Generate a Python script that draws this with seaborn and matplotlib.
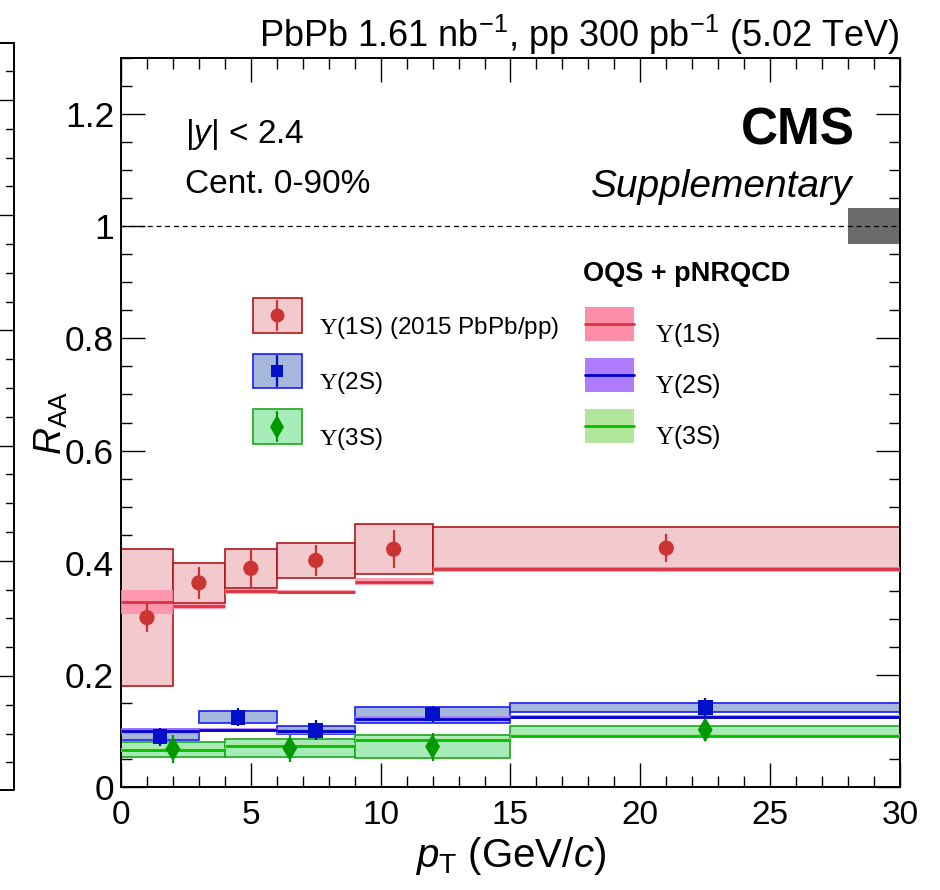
import numpy as np
import pandas as pd
import seaborn as sns
import matplotlib
matplotlib.use("Agg")
import matplotlib.pyplot as plt
from matplotlib.patches import Patch, Rectangle
from matplotlib.lines import Line2D
from matplotlib.ticker import MultipleLocator
from matplotlib.legend_handler import HandlerBase

# ---------------- data ----------------
# Upsilon(1S) data (2015 PbPb/pp)
s1_lo = [0, 2, 4, 6, 9, 12]
s1_hi = [2, 4, 6, 9, 12, 30]
s1_x = [1.0, 3.0, 5.0, 7.5, 10.5, 21.0]
s1_y = [0.302, 0.364, 0.390, 0.404, 0.424, 0.426]
s1_stat = [0.026, 0.029, 0.034, 0.028, 0.034, 0.025]
s1_sys_lo = [0.181, 0.329, 0.355, 0.372, 0.380, 0.390]
s1_sys_hi = [0.425, 0.399, 0.424, 0.435, 0.469, 0.463]

# Upsilon(2S) data
s2_lo = [0, 3, 6, 9, 15]
s2_hi = [3, 6, 9, 15, 30]
s2_x = [1.5, 4.5, 7.5, 12.0, 22.5]
s2_y = [0.090, 0.124, 0.101, 0.130, 0.142]
s2_stat = [0.016, 0.016, 0.018, 0.014, 0.016]
s2_sys_lo = [0.084, 0.115, 0.094, 0.115, 0.134]
s2_sys_hi = [0.103, 0.136, 0.108, 0.142, 0.150]

# Upsilon(3S) data
s3_lo = [0, 4, 9, 15]
s3_hi = [4, 9, 15, 30]
s3_x = [2.0, 6.5, 12.0, 22.5]
s3_y = [0.068, 0.069, 0.072, 0.102]
s3_stat = [0.025, 0.024, 0.025, 0.020]
s3_sys_lo = [0.053, 0.053, 0.052, 0.093]
s3_sys_hi = [0.081, 0.085, 0.092, 0.109]

# OQS + pNRQCD theory
t1_lo = [0, 2, 4, 6, 9, 12]
t1_hi = [2, 4, 6, 9, 12, 30]
t1_c = [0.330, 0.322, 0.349, 0.348, 0.366, 0.388]
t1_dn = [0.308, 0.318, 0.345, 0.344, 0.360, 0.384]
t1_up = [0.351, 0.326, 0.353, 0.352, 0.372, 0.392]

t2_lo = [0, 3, 6, 9, 15]
t2_hi = [3, 6, 9, 15, 30]
t2_c = [0.100, 0.102, 0.099, 0.122, 0.125]
t2_dn = [0.095, 0.098, 0.095, 0.118, 0.121]
t2_up = [0.105, 0.106, 0.103, 0.126, 0.129]

t3_lo = [0, 4, 9, 15]
t3_hi = [4, 9, 15, 30]
t3_c = [0.066, 0.074, 0.084, 0.091]
t3_dn = [0.062, 0.070, 0.080, 0.087]
t3_up = [0.070, 0.078, 0.088, 0.095]

global_unc = [0.968, 1.032]
global_x = [28, 30]

x_ticks = [0, 5, 10, 15, 20, 25, 30]
x_ticklabels = ["0", "5", "10", "15", "20", "25", "30"]
y_ticks = [0, 0.2, 0.4, 0.6, 0.8, 1.0, 1.2]
y_ticklabels = ["0", "0.2", "0.4", "0.6", "0.8", "1", "1.2"]

# ---------------- style ----------------
sns.set_theme(style="ticks")
plt.rcParams["font.family"] = ["Liberation Sans", "DejaVu Sans"]
plt.rcParams["mathtext.fontset"] = "custom"
plt.rcParams["mathtext.rm"] = "Liberation Sans"
plt.rcParams["mathtext.it"] = "Liberation Sans:italic"
plt.rcParams["mathtext.bf"] = "Liberation Sans:bold"
plt.rcParams["mathtext.sf"] = "Liberation Serif"
for k in ["text.color", "axes.labelcolor", "xtick.color", "ytick.color", "axes.edgecolor"]:
    plt.rcParams[k] = "black"

W, H = 940, 890
fig = plt.figure(figsize=(W / 100, H / 100), dpi=100)
ax = fig.add_axes([121 / W, 1 - 787 / H, 779 / W, 729 / H])

C = {
    "1S": dict(fill="#f2c9cc", edge="#b5141a", mk="#cc3333",
               tband="#ff8fa8", tline="#dd3040"),
    "2S": dict(fill="#a6b7dc", edge="#1a1aff", mk="#0010c8",
               tband="#b07cff", tline="#0000d0"),
    "3S": dict(fill="#a6ebb8", edge="#1aa81a", mk="#009a00",
               tband="#b2e69a", tline="#00c000"),
}

def draw_data(key, lo, hi, sys_lo, sys_hi):
    lo = np.array(lo); hi = np.array(hi)
    slo = np.array(sys_lo); shi = np.array(sys_hi)
    ax.bar(lo, shi - slo, width=hi - lo, bottom=slo, align="edge",
           color=C[key]["fill"], edgecolor=C[key]["edge"], linewidth=1.2, zorder=2)

def draw_theory(key, lo, hi, c, dn, up):
    lo = np.array(lo); hi = np.array(hi)
    dn = np.array(dn); up = np.array(up)
    ax.bar(lo, up - dn, width=hi - lo, bottom=dn, align="edge",
           color=C[key]["tband"], alpha=0.85, linewidth=0, zorder=3)
    ax.hlines(c, lo, hi, color=C[key]["tline"], linewidth=2.0, zorder=4)

draw_data("1S", s1_lo, s1_hi, s1_sys_lo, s1_sys_hi)
draw_data("2S", s2_lo, s2_hi, s2_sys_lo, s2_sys_hi)
draw_data("3S", s3_lo, s3_hi, s3_sys_lo, s3_sys_hi)
draw_theory("1S", t1_lo, t1_hi, t1_c, t1_dn, t1_up)
draw_theory("2S", t2_lo, t2_hi, t2_c, t2_dn, t2_up)
draw_theory("3S", t3_lo, t3_hi, t3_c, t3_dn, t3_up)

# error bars
for key, xs, ys, es in [("1S", s1_x, s1_y, s1_stat),
                        ("2S", s2_x, s2_y, s2_stat),
                        ("3S", s3_x, s3_y, s3_stat)]:
    ax.errorbar(xs, ys, yerr=es, fmt="none", ecolor=C[key]["mk"],
                elinewidth=1.6, capsize=0, zorder=5)

# points via seaborn
df = pd.DataFrame({
    "pt": s1_x + s2_x + s3_x,
    "raa": s1_y + s2_y + s3_y,
    "state": ["1S"] * len(s1_x) + ["2S"] * len(s2_x) + ["3S"] * len(s3_x),
})
sizes = {"1S": 120, "2S": 110, "3S": 160}
mks = {"1S": "o", "2S": "s", "3S": "d"}
for key in ["1S", "2S", "3S"]:
    sns.scatterplot(data=df[df.state == key], x="pt", y="raa", marker=mks[key],
                    s=sizes[key], color=C[key]["mk"], edgecolor="none",
                    ax=ax, zorder=6, legend=False)

# global uncertainty + unity line
ax.bar(global_x[0], global_unc[1] - global_unc[0], width=global_x[1] - global_x[0],
       bottom=global_unc[0], align="edge", color="#6b6b6b", linewidth=0, zorder=2)
ax.axhline(1.0, color="black", linewidth=0.9, linestyle=(0, (4, 3)), zorder=3)

# axes
ax.set_xlim(0, 30)
ax.set_ylim(0, 1.3)
ax.xaxis.set_minor_locator(MultipleLocator(1))
ax.yaxis.set_minor_locator(MultipleLocator(0.05))
ax.set_xticks(x_ticks)
ax.set_xticklabels(x_ticklabels)
ax.set_yticks(y_ticks)
ax.set_yticklabels(y_ticklabels)
ax.tick_params(which="both", direction="in", top=True, right=True,
               color="black", width=1.0)
ax.tick_params(axis="x", labelsize=24, pad=9)
ax.tick_params(axis="y", labelsize=25.5, pad=5)
ax.tick_params(which="major", length=17)
ax.tick_params(which="minor", length=8)
for sp in ax.spines.values():
    sp.set_linewidth(1.4)
    sp.set_color("black")

ax.set_xlabel(r"$p_{\mathrm{T}}$ (GeV/$c$)", fontsize=29)
ax.set_ylabel(r"$R_{\mathrm{AA}}$", fontsize=27)
ax.xaxis.set_label_coords(0.5, -0.066)
ax.yaxis.set_label_coords(-0.065, 0.5)

# texts
ax.text(1.0, 1.015, r"PbPb 1.61 nb$^{\mathregular{-1}}$, pp 300 pb$^{\mathregular{-1}}$ (5.02 TeV)",
        transform=ax.transAxes, ha="right", va="baseline", fontsize=26)
ax.text(0.082, 0.883, r"|$y$| < 2.4", transform=ax.transAxes, fontsize=24, va="baseline")
ax.text(0.082, 0.815, "Cent. 0-90%", transform=ax.transAxes, fontsize=24, va="baseline")
ax.text(0.942, 0.881, "CMS", transform=ax.transAxes, fontsize=37, fontweight="bold",
        ha="right", va="baseline")
ax.text(0.939, 0.809, "Supplementary", transform=ax.transAxes, fontsize=28,
        style="italic", ha="right", va="baseline")
ax.text(0.593, 0.694, "OQS + pNRQCD", transform=ax.transAxes, fontsize=19.5,
        fontweight="bold", va="baseline")

# legends
ups = r"$\mathsf{\Upsilon}$"
h_data = []
for key in ["1S", "2S", "3S"]:
    box = Patch(facecolor=C[key]["fill"], edgecolor=C[key]["edge"], linewidth=1.2)
    mk = Line2D([], [], color=C[key]["mk"], marker=mks[key], linestyle="none",
                markersize={"1S": 10, "2S": 9, "3S": 12}[key], markeredgewidth=0)
    h_data.append((box, mk))
labels_data = [ups + "(1S) (2015 PbPb/pp)", ups + "(2S)", ups + "(3S)"]

class HandlerBoxPoint(HandlerBase):
    def create_artists(self, legend, orig, xd, yd, width, height, fontsize, trans):
        box, mk = orig
        r = Rectangle((xd, yd - 0.15 * height), width, height * 1.3,
                      facecolor=box.get_facecolor(), edgecolor=box.get_edgecolor(),
                      linewidth=1.2, transform=trans)
        cx = xd + width / 2
        vl = Line2D([cx, cx], [yd - 0.05 * height, yd + 1.05 * height],
                    color=mk.get_color(), linewidth=1.6, transform=trans)
        m = Line2D([cx], [yd + height / 2], marker=mk.get_marker(), color=mk.get_color(),
                   markersize=mk.get_markersize(), markeredgewidth=0, linestyle="none",
                   transform=trans)
        return [r, vl, m]

class HandlerBandLine(HandlerBase):
    def create_artists(self, legend, orig, xd, yd, width, height, fontsize, trans):
        band, line = orig
        r = Rectangle((xd, yd - 0.15 * height), width, height * 1.3,
                      facecolor=band.get_facecolor(), edgecolor="none", transform=trans)
        l = Line2D([xd, xd + width], [yd + height / 2] * 2, color=line.get_color(),
                   linewidth=2.0, transform=trans)
        return [r, l]

leg1 = ax.legend(h_data, labels_data, loc="upper left",
                 bbox_to_anchor=(0.1695, 0.651), frameon=False, fontsize=17.5,
                 handlelength=2.0, handleheight=1.3, labelspacing=1.12,
                 handletextpad=0.7, borderaxespad=0, borderpad=0,
                 handler_map={tuple: HandlerBoxPoint()})
ax.add_artist(leg1)

h_th = []
for key in ["1S", "2S", "3S"]:
    h_th.append((Patch(facecolor=C[key]["tband"]), Line2D([], [], color=C[key]["tline"])))
labels_th = [ups + "(1S)", ups + "(2S)", ups + "(3S)"]
leg2 = ax.legend(h_th, labels_th, loc="upper left",
                 bbox_to_anchor=(0.596, 0.640), frameon=False, fontsize=18,
                 handlelength=1.95, handleheight=1.25, labelspacing=0.9,
                 handletextpad=0.85, borderaxespad=0, borderpad=0,
                 handler_map={tuple: HandlerBandLine()})

# partial frame of neighbouring panel at left edge
def fline(x0, y0, x1, y1, lw=1.4):
    fig.add_artist(Line2D([x0 / W, x1 / W], [1 - y0 / H, 1 - y1 / H],
                          color="black", linewidth=lw, transform=fig.transFigure))
fline(0, 43, 14, 43)
fline(14, 43, 14, 790)
fline(0, 790, 14, 790)
ticks_y = np.arange(100 - 28.8, 790, 28.8)
for i, ty in enumerate(ticks_y):
    if ty < 50 or ty > 785:
        continue
    major = (i - 1) % 4 == 0
    fline(0 if major else 6, ty, 14, ty, lw=1.0)

fig.savefig("out.png", dpi=100)
